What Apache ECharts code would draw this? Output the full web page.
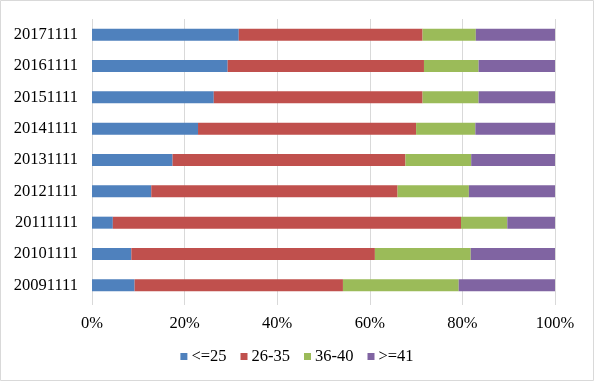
<!DOCTYPE html>
<html><head><meta charset="utf-8">
<script src="https://cdn.jsdelivr.net/npm/echarts@6/dist/echarts.min.js"></script>
<style>html,body{margin:0;padding:0;background:#fff}#c{width:594px;height:381px}</style>
</head><body><div id="c"></div>
<script>
var categories = ['20091111','20101111','20111111','20121111','20131111','20141111','20151111','20161111','20171111'];
var seriesNames = ['<=25','26-35','36-40','>=41'];
var s1 = [9.2, 8.5, 4.5, 12.8, 17.4, 22.9, 26.3, 29.3, 31.7];
var s2 = [45.0, 52.6, 75.2, 53.2, 50.3, 47.1, 45.1, 42.4, 39.7];
var s3 = [25.0, 20.7, 10.0, 15.4, 14.2, 12.8, 12.1, 11.8, 11.5];
var s4 = [20.8, 18.2, 10.3, 18.6, 18.1, 17.2, 16.5, 16.5, 17.1];
var colors = ['#4f81bd','#c0504d','#9bbb59','#8064a2'];
var font = 'Liberation Serif';
var chart = echarts.init(document.getElementById('c'));
var data = [s1,s2,s3,s4];
chart.setOption({
  animation:false,
  color: colors,
  graphic:[{type:'rect',shape:{x:0.5,y:0.5,width:593,height:380},style:{fill:'none',stroke:'#d9d9d9',lineWidth:1},silent:true}],
  grid:{left:92,right:39,top:19,bottom:80,containLabel:false},
  legend:{bottom:11,left:'center',itemWidth:7,itemHeight:7,itemGap:14,icon:'rect',
    textStyle:{fontFamily:font,fontSize:16.5,color:'#000',padding:[0,0,0,-1]},
    data:seriesNames},
  xAxis:{type:'value',min:0,max:100,interval:20,
    axisLabel:{formatter:'{value}%',fontFamily:font,fontSize:16.5,color:'#000',margin:14},
    axisLine:{show:false},
    axisTick:{show:true,length:4,lineStyle:{color:'#d9d9d9'}},
    splitLine:{show:true,lineStyle:{color:'#d9d9d9',width:1}}},
  yAxis:{type:'category',data:categories,
    axisLabel:{fontFamily:font,fontSize:16.5,color:'#000',margin:14},
    axisLine:{show:false},axisTick:{show:false}},
  series: seriesNames.map(function(n,i){return {name:n,type:'bar',stack:'a',barWidth:12,data:data[i]};})
});
</script></body></html>
